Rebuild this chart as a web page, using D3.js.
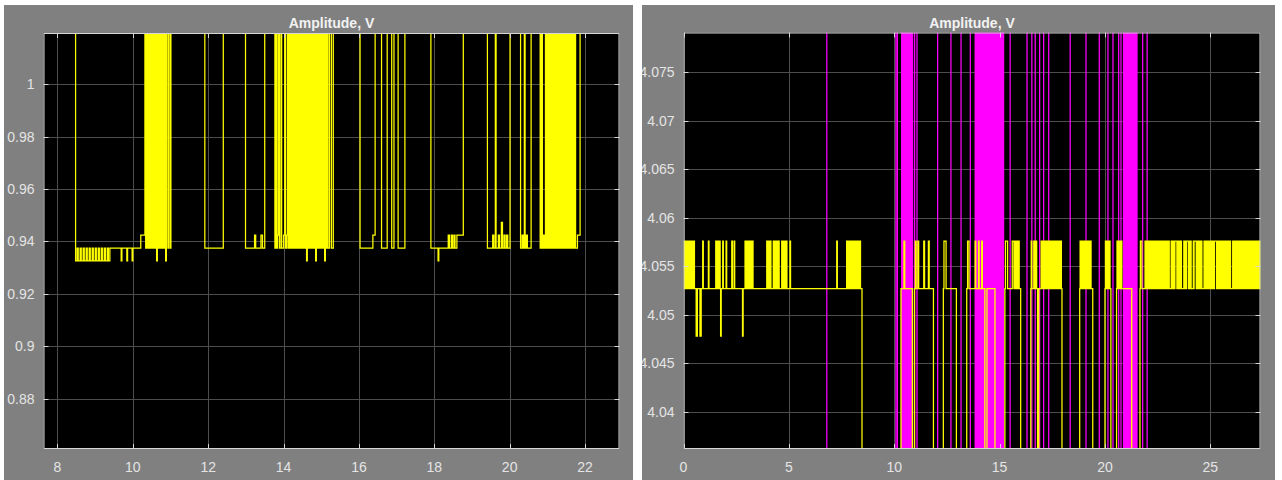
<!DOCTYPE html>
<html><head><meta charset="utf-8">
<script src="https://cdn.jsdelivr.net/npm/d3@7"></script>
<style>body{margin:0;background:#fff}svg{display:block}</style>
</head><body><svg id="c" width="1282" height="480"></svg>
<script>
// ---------- Left panel data (yellow step signal) ----------
const H = 1.05, A = 0.9375, B = 0.9326, C = 0.9424, D = 0.9473; // H = above plot
const leftXTicks = [8, 10, 12, 14, 16, 18, 20, 22];
const leftXLabels = ["8", "10", "12", "14", "16", "18", "20", "22"];
const leftYTicks = [0.88, 0.9, 0.92, 0.94, 0.96, 0.98, 1];
const leftYLabels = ["0.88", "0.9", "0.92", "0.94", "0.96", "0.98", "1"];
const leftSteps = [
[8.46,H],[8.48,B],[8.52,A],[8.55,B],[8.60,A],[8.63,B],[8.68,A],[8.71,B],[8.76,A],[8.79,B],[8.84,A],[8.87,B],[8.92,A],[8.95,B],[9.00,A],[9.03,B],[9.08,A],[9.11,B],[9.16,A],[9.19,B],[9.24,A],[9.27,B],[9.32,A],[9.35,B],[9.39,A],
[9.69,B],[9.71,A],[9.84,B],[9.86,A],[9.98,B],[10.00,A],[10.21,C],
[10.32,H],[10.34,A],[10.36,H],[10.38,A],[10.40,H],[10.42,A],[10.44,H],[10.46,A],[10.48,H],[10.50,A],[10.52,H],[10.54,A],[10.56,H],[10.58,A],[10.60,H],[10.63,B],[10.65,H],[10.67,A],[10.69,H],[10.71,A],[10.73,H],[10.75,A],[10.77,H],[10.79,A],[10.81,H],[10.83,A],[10.85,H],[10.87,B],[10.89,H],[10.93,A],[10.95,H],[10.99,A],[11.01,H],
[11.91,A],[12.40,H],
[12.99,A],[13.23,C],[13.26,A],[13.40,C],[13.44,A],[13.50,H],
[13.77,A],[13.79,H],[13.82,A],[13.84,C],[13.86,H],[13.89,A],[13.93,H],[13.95,A],[14.00,C],[14.03,H],[14.05,A],[14.08,C],[14.10,H],[14.12,A],
[14.14,H],[14.16,A],[14.18,H],[14.20,A],[14.22,H],[14.24,A],[14.26,H],[14.28,A],[14.30,H],[14.32,A],[14.34,H],[14.36,A],[14.38,H],[14.40,A],[14.42,H],[14.44,A],[14.46,H],[14.48,A],[14.50,H],[14.52,A],[14.54,H],[14.56,A],[14.58,H],[14.61,B],[14.63,H],[14.65,A],[14.67,H],[14.69,A],[14.71,H],[14.73,A],[14.75,H],[14.77,A],[14.79,H],[14.81,A],[14.83,H],[14.85,B],[14.87,H],[14.89,A],[14.91,H],[14.93,A],[14.95,H],[14.97,A],[14.99,H],[15.01,A],[15.03,H],[15.05,A],[15.07,H],[15.09,B],[15.11,H],[15.13,A],[15.15,H],[15.18,A],[15.22,H],[15.27,A],[15.32,H],
[16.03,A],[16.37,C],[16.43,H],[16.60,A],[16.75,H],[16.87,A],[16.93,H],[17.04,A],[17.22,H],
[17.91,A],[18.10,B],[18.12,A],[18.37,C],[18.40,A],[18.45,C],[18.48,A],[18.52,C],[18.55,A],[18.60,C],[18.77,H],
[19.41,A],[19.55,C],[19.58,A],[19.62,H],[19.64,A],[19.70,C],[19.73,A],[19.78,D],[19.81,A],[19.85,C],[19.88,A],[19.92,C],[19.95,A],[20.01,H],
[20.29,A],[20.33,C],[20.36,A],[20.39,H],[20.41,A],[20.44,C],[20.47,A],[20.57,H],
[20.81,A],[20.84,H],[20.87,A],[20.90,C],[20.93,A],[20.95,H],[20.97,A],[20.99,H],[21.01,A],[21.03,H],[21.05,A],[21.07,H],[21.09,A],[21.11,H],[21.13,A],[21.15,H],[21.17,A],[21.19,H],[21.21,A],[21.23,H],[21.25,A],[21.27,H],[21.29,A],[21.31,H],[21.33,A],[21.35,H],[21.37,A],[21.39,H],[21.41,A],[21.43,H],[21.45,A],[21.47,H],[21.49,A],[21.51,H],[21.53,A],[21.55,H],[21.57,A],[21.60,H],[21.63,A],[21.66,H],[21.69,A],[21.72,H],[21.75,A],[21.80,C],[21.87,H],[21.95,H]
];

// ---------- Right panel data ----------
const P = 4.0576, Q = 4.0527, R = 4.0478, Z = 4.0; // Z = below plot
const rightXTicks = [0, 5, 10, 15, 20, 25];
const rightXLabels = ["0", "5", "10", "15", "20", "25"];
const rightYTicks = [4.04, 4.045, 4.05, 4.055, 4.06, 4.065, 4.07, 4.075];
const rightYLabels = ["4.04", "4.045", "4.05", "4.055", "4.06", "4.065", "4.07", "4.075"];
const rightSteps = [
[0.00,P],[0.03,Q],[0.05,P],[0.08,Q],[0.10,P],[0.13,Q],[0.15,P],[0.18,Q],[0.20,P],[0.23,Q],[0.25,P],[0.30,Q],[0.35,P],[0.38,Q],[0.42,P],[0.45,Q],[0.49,P],[0.52,Q],
[0.60,R],[0.66,Q],[0.78,R],[0.84,Q],
[0.91,P],[0.94,Q],[1.18,P],[1.21,Q],[1.53,P],[1.57,Q],[1.60,P],[1.63,Q],[1.68,P],[1.74,Q],[1.76,R],[1.79,Q],[1.86,P],[1.89,Q],[2.02,P],[2.05,Q],[2.29,P],[2.32,Q],[2.40,P],[2.43,Q],
[2.80,R],[2.83,Q],[2.92,P],[2.96,Q],[3.00,P],[3.05,Q],[3.10,P],[3.13,Q],[3.18,P],[3.22,Q],[3.26,P],[3.30,Q],
[3.95,P],[3.98,Q],[4.00,P],[4.03,Q],[4.05,P],[4.08,Q],[4.10,P],[4.15,Q],[4.26,P],[4.29,Q],[4.34,P],[4.37,Q],[4.42,P],[4.45,Q],[4.50,P],[4.54,Q],[4.66,P],[4.69,Q],[4.74,P],[4.77,Q],[4.83,P],[4.86,Q],[4.88,P],[4.91,Q],[5.05,P],[5.08,Q],
[7.27,P],[7.30,Q],[7.74,P],[7.77,Q],[7.82,P],[7.85,Q],[7.90,P],[7.93,Q],[7.97,P],[8.00,Q],[8.06,P],[8.10,Q],[8.12,P],[8.15,Q],[8.17,P],[8.20,Q],[8.22,P],[8.25,Q],[8.27,P],[8.30,Q],[8.32,P],[8.35,Q],[8.37,P],[8.40,Q],
[8.47,Z],
[10.32,Q],[10.46,P],[10.50,Q],[10.86,Z],[10.96,Q],[11.00,P],[11.04,Q],[11.12,P],[11.16,Q],[11.40,P],[11.44,Q],[11.62,P],[11.66,Q],[11.86,Z],
[12.33,Q],[12.36,P],[12.46,Q],[12.95,Z],
[13.44,Q],[13.48,P],[13.55,Q],[13.84,P],[13.87,Q],[14.00,P],[14.03,Q],[14.15,P],[14.18,Q],[14.30,Z],[14.40,Q],[14.78,Z],
[15.25,Q],[15.28,P],[15.38,Q],[15.60,P],[15.68,Q],[15.73,P],[15.78,Q],[15.81,P],[15.85,Q],[15.88,P],[15.93,Q],[16.00,Z],
[16.48,Q],[16.50,P],[16.53,Q],[16.62,P],[16.66,Q],[16.72,P],[16.76,Q],[16.80,Z],[16.86,Q],[16.97,P],[17.00,Q],[17.03,P],[17.06,Q],[17.10,P],[17.14,Q],[17.18,P],[17.22,Q],[17.26,P],[17.30,Q],[17.34,P],[17.38,Q],[17.42,P],[17.46,Q],[17.50,P],[17.55,Q],[17.60,P],[17.65,Q],[17.70,P],[17.76,Q],[17.80,P],[17.86,Q],[17.90,P],[17.93,Q],[17.96,Z],
[18.80,Q],[18.82,P],[18.86,Q],[18.90,P],[18.94,Q],[18.98,P],[19.02,Q],[19.06,P],[19.10,Q],[19.14,P],[19.18,Q],[19.22,P],[19.26,Q],[19.30,P],[19.34,Q],[19.42,Z],
[20.00,Q],[20.02,P],[20.06,Q],[20.10,P],[20.14,Q],[20.18,P],[20.24,Q],[20.28,Z],[20.55,Q],[20.57,P],[20.62,Q],[20.66,P],[20.72,Q],[20.76,P],[20.80,Q],[21.27,Z],
[21.66,Q],[21.68,P],[21.75,Q],[21.90,P],[21.93,Q],[21.96,P],[22.00,Q],[22.05,P],[22.08,Q],[22.12,P]
];
// fast toggling between Q and P after t = 22.15 (levels alternate in this order)
const rightBurstLevels = [Q, P];
const rightBurstTimes = [
22.15,22.17,22.19,22.22,22.24,22.26,22.28,22.31,22.33,22.35,22.37,22.40,22.42,22.44,22.46,22.49,22.51,22.53,22.55,22.58,22.60,22.62,22.64,22.67,22.69,22.71,22.73,22.76,22.78,22.80,22.82,22.85,22.87,22.89,22.91,22.94,22.96,22.98,23.00,23.03,23.05,
23.14,23.16,23.18,23.21,23.23,23.25,23.27,23.30,23.32,
23.41,23.43,23.45,23.48,23.50,23.52,23.54,23.57,23.59,23.61,23.63,
23.74,23.76,23.78,23.81,23.83,23.85,23.87,
23.96,23.98,24.00,24.03,24.05,24.07,24.09,
24.19,24.21,24.23,
24.33,24.35,24.37,24.40,24.42,24.44,24.46,24.49,24.51,24.53,24.55,24.58,24.60,
24.70,24.72,24.74,24.77,24.79,24.81,24.83,24.86,24.88,24.90,24.92,24.95,24.97,24.99,25.01,25.04,25.06,25.08,25.10,25.13,25.15,25.17,25.19,
25.29,25.31,25.33,25.36,25.38,25.40,25.42,25.45,25.47,25.49,25.51,25.54,25.56,25.58,25.60,25.63,25.65,25.67,25.69,25.72,25.74,25.76,25.78,25.81,25.83,25.85,25.87,25.90,25.92,25.94,25.96,
26.06,26.08,26.10,26.13,26.15,26.17,26.19,26.22,26.24,26.26,26.28,26.31,26.33,26.35,26.37,26.40,26.42,26.44,26.46,26.49,26.51,26.53,26.55,26.58,26.60,26.62,26.64,26.67,26.69,26.71,26.73,26.76,26.78,26.80,26.82,26.85,26.87,26.89,26.91,26.94,26.96,26.98,27.00,27.03,27.05,27.07,27.09,27.12,27.14,27.16,27.18,27.21,27.23,27.25,27.27,27.30,27.32,27.34,27.36,27.39,27.41
];
// magenta signal: switches between far above and far below the plot
const magentaLevels = [3.9, 4.2];
const magentaTimes = [
0, 6.80, 10.08, 10.15,
10.35,10.39,10.43,10.47,10.51,10.55,10.59,10.63,10.67,10.71,10.75,10.79,10.83,10.87,
10.97, 11.08, 12.06, 12.69, 13.17, 13.61,
13.84,13.90,13.96,14.02,14.08,14.14,14.20,14.26,14.32,14.38,
14.42,14.46,14.50,14.54,14.58,14.62,14.66,14.70,14.74,14.78,14.82,14.86,14.90,14.94,14.98,15.02,15.06,15.10,15.14,15.19,
15.50, 16.30, 16.53, 16.69, 16.90, 17.09, 17.33, 18.35, 19.10, 19.73, 20.14, 20.38, 20.65, 20.76,
20.88,20.92,20.96,21.00,21.04,21.08,21.12,21.16,21.20,21.24,21.28,21.32,21.36,21.40,21.44,21.48,21.52,
21.79, 22.00
];

// ---------- drawing ----------
const svg = d3.select("#c");
const FONT = "'Liberation Sans', Arial, sans-serif";

function drawPanel(cfg) {
  const g = svg.append("g");
  const cid = "clip" + cfg.id, pid = "pclip" + cfg.id;
  const defs = svg.append("defs");
  defs.append("clipPath").attr("id", pid).append("rect")
    .attr("x", cfg.panel[0]).attr("y", cfg.panel[1]).attr("width", cfg.panel[2]).attr("height", cfg.panel[3]);
  const [x0, x1, y0, y1] = cfg.plot;
  defs.append("clipPath").attr("id", cid).append("rect")
    .attr("x", x0).attr("y", y0).attr("width", x1 - x0).attr("height", y1 - y0);
  const pg = g.attr("clip-path", `url(#${pid})`);
  pg.append("rect").attr("x", cfg.panel[0]).attr("y", cfg.panel[1])
    .attr("width", cfg.panel[2]).attr("height", cfg.panel[3]).attr("fill", "#808080");
  pg.append("rect").attr("x", x0).attr("y", y0).attr("width", x1 - x0).attr("height", y1 - y0).attr("fill", "#000");

  const x = d3.scaleLinear().domain(cfg.xDomain).range([x0, x1]);
  const y = d3.scaleLinear().domain(cfg.yDomain).range([y1, y0]);

  // grid
  const grid = pg.append("g").attr("stroke", "#4d4d4d").attr("stroke-width", 1);
  cfg.xTicks.forEach(t => grid.append("line").attr("x1", Math.round(x(t)) + 0.5).attr("x2", Math.round(x(t)) + 0.5).attr("y1", y0).attr("y2", y1));
  cfg.yTicks.forEach(t => grid.append("line").attr("y1", Math.round(y(t)) + 0.5).attr("y2", Math.round(y(t)) + 0.5).attr("x1", x0).attr("x2", x1));

  // data
  const line = d3.line().x(d => x(d[0])).y(d => y(d[1])).curve(d3.curveStepAfter);
  const dg = pg.append("g").attr("clip-path", `url(#${cid})`);
  cfg.series.forEach(s => dg.append("path").attr("d", line(s.data))
    .attr("fill", "none").attr("stroke", s.color).attr("stroke-width", 1.25));

  // box and inward ticks
  pg.append("rect").attr("x", x0 + 0.5).attr("y", y0 + 0.5).attr("width", x1 - x0 - 1).attr("height", y1 - y0 - 1)
    .attr("fill", "none").attr("stroke", "#d6d6d6").attr("stroke-width", 1);
  const tk = pg.append("g").attr("stroke", "#d6d6d6").attr("stroke-width", 1);
  cfg.xTicks.forEach(t => {
    const px = Math.round(x(t)) + 0.5;
    tk.append("line").attr("x1", px).attr("x2", px).attr("y1", y0).attr("y2", y0 + 5);
    tk.append("line").attr("x1", px).attr("x2", px).attr("y1", y1).attr("y2", y1 - 5);
  });
  cfg.yTicks.forEach(t => {
    const py = Math.round(y(t)) + 0.5;
    tk.append("line").attr("y1", py).attr("y2", py).attr("x1", x0).attr("x2", x0 + 5);
    tk.append("line").attr("y1", py).attr("y2", py).attr("x1", x1).attr("x2", x1 - 5);
  });

  // labels
  const lab = pg.append("g").attr("font-family", FONT).attr("font-size", "14px").attr("fill", "#e4e4e4");
  cfg.xTicks.forEach((t, i) => lab.append("text").attr("x", x(t)).attr("y", y1 + 23)
    .attr("text-anchor", "middle").text(cfg.xLabels[i]));
  cfg.yTicks.forEach((t, i) => lab.append("text").attr("x", x0 - 9).attr("y", y(t) + 5)
    .attr("text-anchor", "end").text(cfg.yLabels[i]));
  pg.append("text").attr("x", (x0 + x1) / 2).attr("y", 28).attr("text-anchor", "middle")
    .attr("font-family", FONT).attr("font-size", "14px").attr("font-weight", "bold")
    .attr("fill", "#f2f2f2").text("Amplitude, V");
}

drawPanel({
  id: "L", panel: [4, 5, 629, 475], plot: [43.5, 619.5, 33, 449],
  xDomain: [7.6285, 22.9156], yDomain: [0.86095, 1.01943],
  xTicks: leftXTicks, xLabels: leftXLabels, yTicks: leftYTicks, yLabels: leftYLabels,
  series: [{ data: leftSteps, color: "#ffff00" }]
});

const rightYellow = rightSteps.concat(rightBurstTimes.map((t, i) => [t, rightBurstLevels[i % 2]]));
const magenta = magentaTimes.map((t, i) => [t, magentaLevels[i % 2]]);
drawPanel({
  id: "R", panel: [642, 5, 633, 475], plot: [683.5, 1260.5, 32.5, 449],
  xDomain: [0, 27.38], yDomain: [4.03619, 4.07907],
  xTicks: rightXTicks, xLabels: rightXLabels, yTicks: rightYTicks, yLabels: rightYLabels,
  series: [{ data: magenta, color: "#ff00ff" }, { data: rightYellow, color: "#ffff00" }]
});
</script></body></html>
